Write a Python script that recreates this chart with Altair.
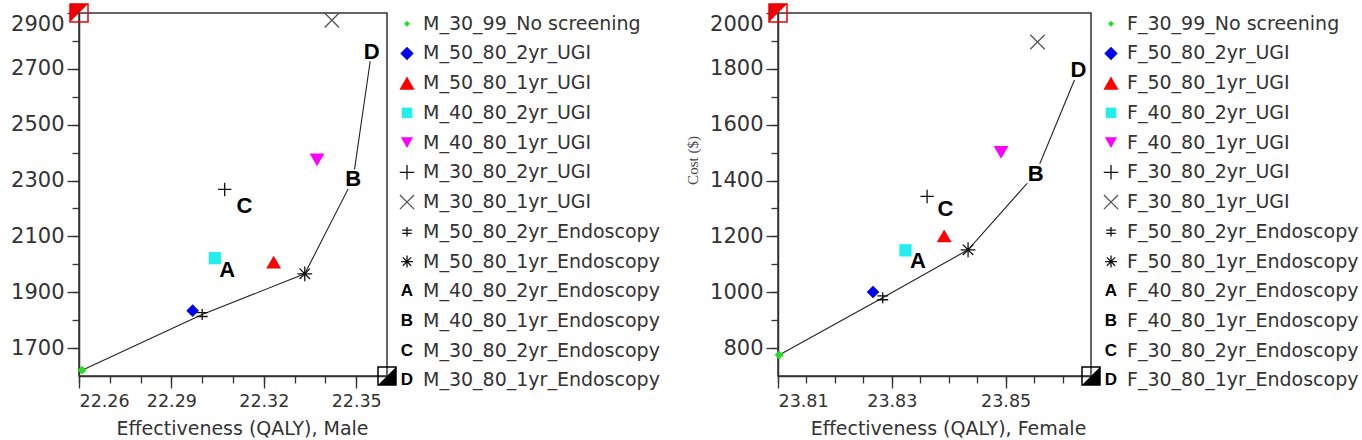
import altair as alt
import pandas as pd

# Strategy names (without the sex prefix), in legend order
strategies = [
    "30_99_No screening", "50_80_2yr_UGI", "50_80_1yr_UGI", "40_80_2yr_UGI",
    "40_80_1yr_UGI", "30_80_2yr_UGI", "30_80_1yr_UGI", "50_80_2yr_Endoscopy",
    "50_80_1yr_Endoscopy", "40_80_2yr_Endoscopy", "40_80_1yr_Endoscopy",
    "30_80_2yr_Endoscopy", "30_80_1yr_Endoscopy",
]

# Effectiveness (QALY) and cost ($) per strategy
male_qaly = [22.261, 22.2969, 22.3232, 22.3041, 22.3373, 22.3073, 22.3421,
             22.300, 22.3333, 22.3081, 22.349, 22.3137, 22.355]
male_cost = [1621, 1834, 2008, 2022, 2374, 2268, 2874,
             1820, 1966, 1978, 2305, 2209, 2762]

female_qaly = [23.8102, 23.8267, 23.8392, 23.8324, 23.8492, 23.8362, 23.8556,
               23.8284, 23.8434, 23.8346, 23.8553, 23.8394, 23.8628]
female_cost = [775, 1001, 1202, 1150, 1501, 1343, 1896,
               980, 1152, 1111, 1425, 1298, 1795]

# Strategies on the efficient frontier
frontier = ["30_99_No screening", "50_80_2yr_Endoscopy", "50_80_1yr_Endoscopy",
            "40_80_1yr_Endoscopy", "30_80_1yr_Endoscopy"]

# Axis ranges, labelled ticks and minor ticks
male_x_domain = [22.26, 22.36]
male_y_domain = [1600, 2900]
male_x_labels = [22.26, 22.29, 22.32, 22.35]
male_x_ticks = [22.26, 22.27, 22.28, 22.29, 22.30, 22.31, 22.32, 22.33, 22.34, 22.35, 22.36]
male_y_labels = [1700, 1900, 2100, 2300, 2500, 2700, 2900]
male_y_ticks = [1700, 1800, 1900, 2000, 2100, 2200, 2300, 2400, 2500, 2600, 2700, 2800, 2900]

female_x_domain = [23.81, 23.865]
female_y_domain = [700, 2000]
female_x_labels = [23.81, 23.83, 23.85]
female_x_ticks = [23.81, 23.815, 23.82, 23.825, 23.83, 23.835, 23.84, 23.845,
                  23.85, 23.855, 23.86, 23.865]
female_y_labels = [800, 1000, 1200, 1400, 1600, 1800, 2000]
female_y_ticks = [800, 900, 1000, 1100, 1200, 1300, 1400, 1500, 1600, 1700, 1800, 1900, 2000]

# Marker styles: (kind, shape or letter, colour, size in plot, size in legend)
PLUS = "M -1 0 L 1 0 M 0 -1 L 0 1"
CROSS = "M -1 -1 L 1 1 M -1 1 L 1 -1"
DPLUS = "M -1 -0.35 L 1 -0.35 M -1 0.35 L 1 0.35 M 0 -1 L 0 1"
STAR = "M -1 0 L 1 0 M 0 -1 L 0 1 M -0.7 -0.7 L 0.7 0.7 M -0.7 0.7 L 0.7 -0.7"
marker_style = {
    "30_99_No screening": ("fill", "diamond", "#22dd22", 80, 36),
    "50_80_2yr_UGI": ("fill", "diamond", "#0000ee", 160, 180),
    "50_80_1yr_UGI": ("fill", "triangle-up", "#ff0000", 220, 230),
    "40_80_2yr_UGI": ("fill", "square", "#22eeee", 150, 110),
    "40_80_1yr_UGI": ("fill", "triangle-down", "#ff00ff", 220, 150),
    "30_80_2yr_UGI": ("stroke", PLUS, "#111111", 180, 210),
    "30_80_1yr_UGI": ("stroke", CROSS, "#555555", 210, 200),
    "50_80_2yr_Endoscopy": ("stroke", DPLUS, "#111111", 120, 90),
    "50_80_1yr_Endoscopy": ("stroke", STAR, "#111111", 220, 140),
    "40_80_2yr_Endoscopy": ("letter", "A", "#000000", 0, 0),
    "40_80_1yr_Endoscopy": ("letter", "B", "#000000", 0, 0),
    "30_80_2yr_Endoscopy": ("letter", "C", "#000000", 0, 0),
    "30_80_1yr_Endoscopy": ("letter", "D", "#000000", 0, 0),
}

# Off-scale indicators in two corners of each plot
UL_TRI = "M -1 -1 L 1 -1 L -1 1 Z"
LR_TRI = "M 1 -1 L 1 1 L -1 1 Z"

LABEL_FONT = "DejaVu Sans"
LETTER_FONT = "Liberation Sans"
INK = "#333333"
PANEL_H = 363


def build_table(prefix, qaly, cost):
    rows = []
    for i, (key, q, c) in enumerate(zip(strategies, qaly, cost)):
        kind, shape, color, size, lsize = marker_style[key]
        rows.append({
            "row": i, "key": key, "label": f"{prefix}_{key}",
            "qaly": q, "cost": c, "kind": kind,
            "shape": shape if kind != "letter" else "circle",
            "letter": shape if kind == "letter" else "",
            "color": color, "size": size, "lsize": lsize,
            "frontier": key in frontier,
        })
    return pd.DataFrame(rows)


def plot_panel(df, x_dom, y_dom, x_labels, x_ticks, y_labels, y_ticks,
               x_title, title_x, y_title=None, width=308, height=PANEL_H):
    xs = alt.Scale(domain=x_dom, nice=False, zero=False)
    ys = alt.Scale(domain=y_dom, nice=False, zero=False)
    x_axis = alt.Axis(values=x_labels, format=".2f", tickSize=12, labelPadding=4,
                      labelFontSize=17.5, title=x_title, titleX=title_x, titleY=58,
                      titleBaseline="alphabetic", titleFontSize=19,
                      titleFontWeight="normal", titleFont=LABEL_FONT, titleColor=INK,
                      orient="bottom")
    y_kw = dict(values=y_labels, format="d", tickSize=12, labelPadding=3,
                labelFontSize=21, labelFlush=True, orient="left")
    if y_title:
        y_kw.update(title=y_title, titleX=-86, titleY=147, titleAngle=270,
                    titleAlign="center", titleBaseline="middle",
                    titleFont="Liberation Serif", titleFontSize=15,
                    titleFontWeight="normal", titleColor="#444444")
    else:
        y_kw.update(title=None)
    x = alt.X("qaly:Q", scale=xs, axis=x_axis)
    y = alt.Y("cost:Q", scale=ys, axis=alt.Axis(**y_kw))

    base = alt.Chart(df)
    line = base.transform_filter("datum.frontier").mark_line(
        color="#222222", strokeWidth=1.1).encode(x=x, y=y, order="qaly:Q")
    boxes = base.transform_filter("datum.kind == 'letter'").mark_square(
        color="white", opacity=1, size=380).encode(x=x, y=y)
    filled = base.transform_filter("datum.kind == 'fill'").mark_point(
        filled=True, opacity=1, strokeWidth=0).encode(
        x=x, y=y,
        shape=alt.Shape("shape:N", scale=None),
        color=alt.Color("color:N", scale=None),
        size=alt.Size("size:Q", scale=None))
    stroked = base.transform_filter("datum.kind == 'stroke'").mark_point(
        filled=False, opacity=1, strokeWidth=1.3).encode(
        x=x, y=y,
        shape=alt.Shape("shape:N", scale=None),
        color=alt.Color("color:N", scale=None),
        size=alt.Size("size:Q", scale=None))
    letters = base.transform_filter("datum.kind == 'letter'").mark_text(
        font=LETTER_FONT, fontWeight="bold", fontSize=22, color="#000000",
        baseline="middle", align="center").encode(x=x, y=y, text="letter:N")

    corner_df = pd.DataFrame({
        "qaly": [x_dom[0], x_dom[1]],
        "cost": [y_dom[1], y_dom[0]],
        "color": ["#ee0000", "#000000"],
        "tri": [UL_TRI, LR_TRI],
    })
    corners = alt.Chart(corner_df)
    c_out = corners.mark_point(shape="square", filled=False, size=324,
                               strokeWidth=1.5, opacity=1).encode(
        x=x, y=y, color=alt.Color("color:N", scale=None))
    c_fill = corners.mark_point(filled=True, size=324, opacity=1, strokeWidth=0).encode(
        x=x, y=y, shape=alt.Shape("tri:N", scale=None),
        color=alt.Color("color:N", scale=None))

    main = alt.layer(line, boxes, filled, stroked, letters, c_out, c_fill)

    # shorter unlabeled ticks at every step
    minor = base.mark_point(opacity=0).encode(
        x=alt.X("qaly:Q", scale=alt.Scale(domain=x_dom, nice=False, zero=False),
                axis=alt.Axis(values=x_ticks, labels=False, tickSize=7, domain=False,
                              title=None, orient="bottom")),
        y=alt.Y("cost:Q", scale=alt.Scale(domain=y_dom, nice=False, zero=False),
                axis=alt.Axis(values=y_ticks, labels=False, tickSize=7, domain=False,
                              title=None, orient="left")),
    )
    return alt.layer(main, minor).resolve_scale(x="independent", y="independent").properties(
        width=width, height=height)


def legend_panel(df, width):
    y = alt.Y("row:Q", scale=alt.Scale(domain=[-0.36, 11.85], reverse=True, nice=False,
                                       zero=False), axis=None)
    base = alt.Chart(df)
    filled = base.transform_filter("datum.kind == 'fill'").mark_point(
        filled=True, opacity=1, strokeWidth=0).encode(
        x=alt.value(10), y=y,
        shape=alt.Shape("shape:N", scale=None),
        color=alt.Color("color:N", scale=None),
        size=alt.Size("lsize:Q", scale=None))
    stroked = base.transform_filter("datum.kind == 'stroke'").mark_point(
        filled=False, opacity=1, strokeWidth=1.3).encode(
        x=alt.value(10), y=y,
        shape=alt.Shape("shape:N", scale=None),
        color=alt.Color("color:N", scale=None),
        size=alt.Size("lsize:Q", scale=None))
    letters = base.transform_filter("datum.kind == 'letter'").mark_text(
        font="Liberation Sans", fontWeight="bold", fontSize=17, color="#000000",
        align="center", baseline="middle").encode(x=alt.value(10), y=y, text="letter:N")
    labels = base.mark_text(font=LABEL_FONT, fontSize=19, color=INK, align="left",
                            baseline="middle").encode(x=alt.value(26), y=y, text="label:N")
    return alt.layer(filled, stroked, letters, labels).properties(
        width=width, height=PANEL_H, view=alt.ViewBackground(stroke="transparent"))


male = build_table("M", male_qaly, male_cost)
female = build_table("F", female_qaly, female_cost)

male_plot = plot_panel(male, male_x_domain, male_y_domain, male_x_labels, male_x_ticks,
                       male_y_labels, male_y_ticks, "Effectiveness (QALY), Male", 163,
                       width=308)
female_plot = plot_panel(female, female_x_domain, female_y_domain, female_x_labels,
                         female_x_ticks, female_y_labels, female_y_ticks,
                         "Effectiveness (QALY), Female", 170, y_title="Cost ($)",
                         width=313)

chart = alt.hconcat(
    male_plot, legend_panel(male, 371), female_plot, legend_panel(female, 250),
    spacing=10, bounds="flush",
).properties(
    padding={"left": 9, "top": 0, "right": 0, "bottom": 0},
    background="white",
).configure_view(
    stroke="#333333", strokeWidth=1.5,
).configure_axis(
    labelFont=LABEL_FONT, labelColor=INK, domainColor="#333333", domainWidth=1.5,
    tickColor="#333333", tickWidth=1.3, grid=False,
)

chart.save("out.html", embed_options={"renderer": "svg", "actions": False})
